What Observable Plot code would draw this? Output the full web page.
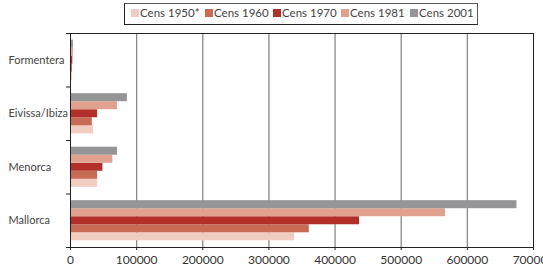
<!DOCTYPE html>
<html>
<head>
<meta charset="utf-8">
<script src="https://cdn.jsdelivr.net/npm/d3@7"></script>
<script src="https://cdn.jsdelivr.net/npm/@observablehq/plot@0.6"></script>
<style>
  body { margin: 0; background: #fff; font-family: Lato, "Open Sans", sans-serif; }
  #wrap { width: 543px; overflow: hidden; }
  #legend { position: relative; height: 33px; }
  #legend .box { position: absolute; left: 124px; top: 3px; width: 352px; height: 20px;
    border: 1px solid #555; border-left-color: #222; border-bottom-color: #222; }
  #legend .item { position: absolute; top: 7px; font-size: 11.5px; color: #444; line-height: 12px; white-space: nowrap; }
  #legend .sw { display: inline-block; width: 8px; height: 8px; margin-right: 1px; }
</style>
</head>
<body>
<div id="wrap">
  <div id="legend"><div class="box"></div></div>
  <div id="chart"></div>
</div>
<script>
const islands = ["Mallorca", "Menorca", "Eivissa/Ibiza", "Formentera"];
const censuses = ["Cens 1950*", "Cens 1960", "Cens 1970", "Cens 1981", "Cens 2001"];
const colors = ["#f1ccc1", "#c96a55", "#b3302a", "#e0a28e", "#959597"];
const cens1950 = [339000, 41000, 35000, 3000];
const cens1960 = [361000, 41000, 33000, 3000];
const cens1970 = [437000, 49000, 41000, 3500];
const cens1981 = [567000, 64000, 71000, 4500];
const cens2001 = [675000, 71000, 86000, 4500];
const xTicks = [0, 100000, 200000, 300000, 400000, 500000, 600000, 700000];

const series = [cens1950, cens1960, cens1970, cens1981, cens2001];
const pad = 0.125, h = 0.15;
const rows = [];
series.forEach((vals, k) => vals.forEach((v, i) => rows.push({
  island: islands[i], census: censuses[k], value: v,
  y1: i + pad + k * h, y2: i + pad + (k + 1) * h
})));

// legend
const legend = document.getElementById("legend");
const legX = [131, 205, 273, 341, 410];
censuses.forEach((c, k) => {
  const it = document.createElement("div");
  it.className = "item";
  it.style.left = legX[k] + "px";
  it.innerHTML = `<span class="sw" style="background:${colors[k]}"></span>${c}`;
  legend.appendChild(it);
});

const chart = Plot.plot({
  width: 543,
  height: 236,
  marginLeft: 70,
  marginRight: 10,
  marginTop: 0,
  marginBottom: 22,
  style: { fontFamily: "Lato, 'Open Sans', sans-serif", color: "#333", background: "#fff", overflow: "visible" },
  x: { domain: [0, 700000], label: null },
  y: { domain: [0, 4], label: null },
  color: { domain: censuses, range: colors },
  marks: [
    Plot.ruleX(xTicks.slice(1, -1), { stroke: "#8a8a8a", strokeWidth: 1.3 }),
    Plot.rectX(rows, { x1: 0, x2: "value", y1: "y1", y2: "y2", fill: "census" }),
    Plot.ruleX([700000], { stroke: "#222", strokeWidth: 1 }),
    Plot.ruleY([4], { stroke: "#222", strokeWidth: 1 }),
    Plot.ruleX([0], { stroke: "#222", strokeWidth: 1 }),
    Plot.ruleY([0], { stroke: "#222", strokeWidth: 1 }),
    Plot.axisX({ ticks: xTicks, tickFormat: d => String(d), tickSize: 3, tickPadding: 5, fontSize: 12, stroke: "#222", fill: "#333", label: null }),
    Plot.axisY({ ticks: [0, 1, 2, 3, 4], tickFormat: () => "", tickSize: 4, stroke: "#222", label: null }),
    Plot.text(islands, { y: (d, i) => i + 0.5, text: d => d, frameAnchor: "left", textAnchor: "start", dx: -62, fontSize: 11, fill: "#444" })
  ]
});
document.getElementById("chart").appendChild(chart);
</script>
</body>
</html>
